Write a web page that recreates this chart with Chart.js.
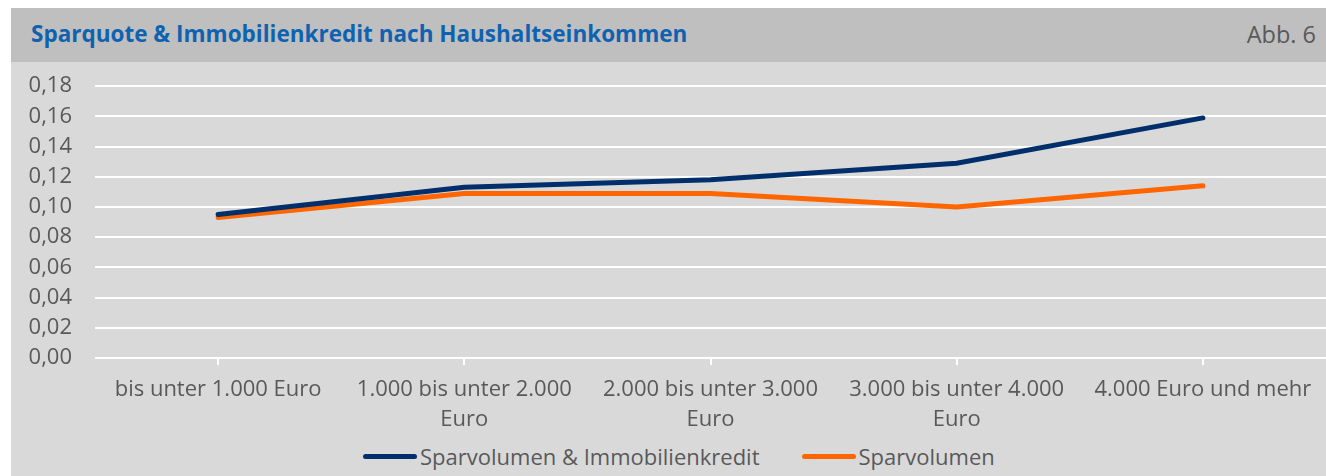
<!DOCTYPE html>
<html>
<head>
<meta charset="utf-8">
<script src="https://cdn.jsdelivr.net/npm/chart.js@4"></script>
<style>
  body { margin: 0; background: #fff; width: 1326px; height: 476px; overflow: hidden; position: relative; }
  .header { position: absolute; left: 11px; top: 8px; width: 1315px; height: 54px; background: #bfbfbf; }
  .title { position: absolute; left: 20px; top: 10px; font: bold 22.5px "Open Sans", sans-serif; color: #0f62b0; white-space: nowrap; }
  .abb { position: absolute; right: 10px; top: 10px; font: 23.5px "Open Sans", sans-serif; color: #595959; }
  .chart-box { position: absolute; left: 11px; top: 62px; width: 1315px; height: 414px; background: #d9d9d9; }
  canvas { display: block; position: absolute; left: 11px; top: 50px; }
  #legend { position: absolute; left: 363px; top: 441px; display: flex; font: 22px "Open Sans", sans-serif; color: #595959; line-height: 30px; }
  #legend .item { display: flex; align-items: center; margin-right: 42px; }
  #legend .swatch { width: 54px; height: 5px; border-radius: 3px; margin-right: 3px; }
</style>
</head>
<body>
<div class="header">
  <div class="title">Sparquote &amp; Immobilienkredit nach Haushaltseinkommen</div>
  <div class="abb">Abb. 6</div>
</div>
<div class="chart-box"></div>
<canvas id="myChart" width="1315" height="386"></canvas>
<div id="legend"></div>
<script>
const categories = [
    'bis unter 1.000 Euro',
    ['1.000 bis unter 2.000', 'Euro'],
    ['2.000 bis unter 3.000', 'Euro'],
    ['3.000 bis unter 4.000', 'Euro'],
    '4.000 Euro und mehr'
]
const sparImmo = [0.095, 0.113, 0.118, 0.129, 0.159]
const sparVolumen = [0.093, 0.109, 0.109, 0.100, 0.114]

const textColor = '#595959'
const font = { family: 'Open Sans', size: 22 }

let ctx = document.getElementById('myChart').getContext('2d')
let chart = new Chart(ctx, {
    type: 'line',
    data: {
        labels: categories,
        datasets: [{
            label: 'Sparvolumen & Immobilienkredit',
            data: sparImmo,
            borderColor: '#002f6c',
            backgroundColor: '#002f6c',
            borderWidth: 5,
            borderCapStyle: 'round',
            pointRadius: 0,
            tension: 0
        }, {
            label: 'Sparvolumen',
            data: sparVolumen,
            borderColor: '#ff6600',
            backgroundColor: '#ff6600',
            borderWidth: 5,
            borderCapStyle: 'round',
            pointRadius: 0,
            tension: 0
        }]
    },
    options: {
        responsive: false,
        animation: false,
        layout: { padding: { top: 10, right: 0, left: 0, bottom: 0 } },
        plugins: {
            tooltip: { enabled: false },
            legend: { display: false }
        },
        scales: {
            x: {
                offset: true,
                border: { display: false },
                grid: {
                    offset: false,
                    drawOnChartArea: false,
                    color: '#ffffff',
                    lineWidth: 2,
                    tickLength: 7
                },
                ticks: {
                    color: textColor,
                    font: { family: 'Open Sans', size: 22, lineHeight: 1.36 },
                    padding: 10,
                    maxRotation: 0,
                    autoSkip: false
                },
                afterFit: scale => { scale.height = 78 }
            },
            y: {
                min: 0,
                max: 0.18,
                border: { display: false },
                grid: { color: '#ffffff', lineWidth: 2, drawTicks: false },
                ticks: {
                    stepSize: 0.02,
                    autoSkip: false,
                    color: textColor,
                    font: font,
                    padding: 23,
                    callback: v => v.toFixed(2).replace('.', ',')
                },
                afterFit: scale => { scale.width = 84 }
            }
        }
    }
})

// legend below the chart, built from the datasets
const legendEl = document.getElementById('legend')
chart.data.datasets.forEach(ds => {
    const item = document.createElement('div')
    item.className = 'item'
    const sw = document.createElement('span')
    sw.className = 'swatch'
    sw.style.background = ds.borderColor
    const txt = document.createElement('span')
    txt.textContent = ds.label
    item.appendChild(sw)
    item.appendChild(txt)
    legendEl.appendChild(item)
})
</script>
</body>
</html>
